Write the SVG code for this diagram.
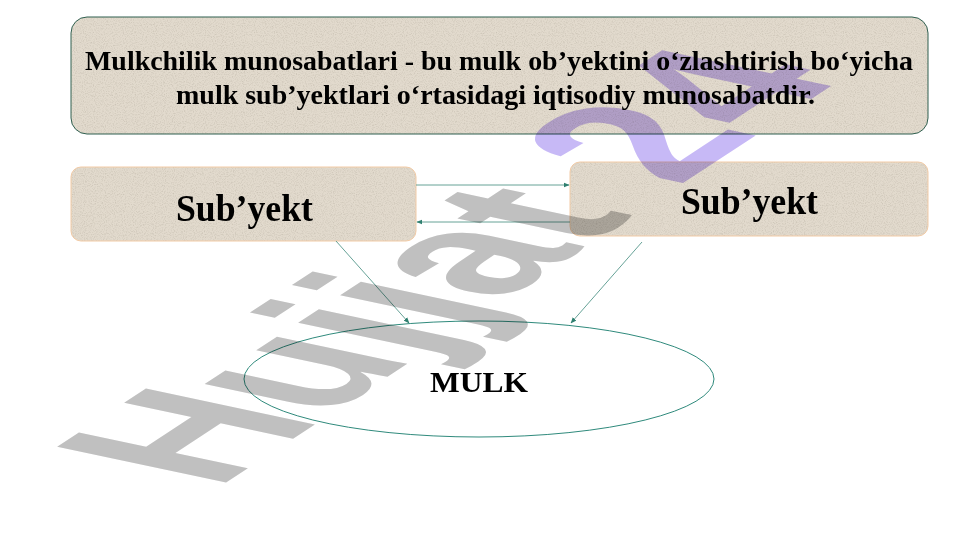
<svg xmlns="http://www.w3.org/2000/svg" width="961" height="540" viewBox="0 0 961 540">
<style>
.box{fill:#e2dacd;}
.t{font-family:"Liberation Serif","Times New Roman",serif;font-weight:bold;fill:#000;text-anchor:middle;}
.c{stroke:#3f8a7c;stroke-width:0.8;fill:none;}
.wm{font-family:"Liberation Sans",Arial,sans-serif;font-weight:bold;mix-blend-mode:multiply;}
</style>
<defs>
<filter id="grain" x="0" y="0" width="100%" height="100%">
<feTurbulence type="fractalNoise" baseFrequency="0.9" numOctaves="2" seed="3" result="n"/>
<feColorMatrix in="n" type="matrix" values="0 0 0 0 0.55  0 0 0 0 0.5  0 0 0 0 0.42  0 0 0 -1.6 0.9" result="s"/>
<feComposite in="s" in2="SourceGraphic" operator="in" result="sc"/>
<feMerge><feMergeNode in="SourceGraphic"/><feMergeNode in="sc"/></feMerge>
</filter>
<marker id="ah" viewBox="0 0 10 10" refX="9" refY="5" markerWidth="6" markerHeight="6" orient="auto" markerUnits="userSpaceOnUse">
<path d="M0,1 L10,5 L0,9 Z" fill="#2f7f6f"/>
</marker>
</defs>
<rect width="961" height="540" fill="#fff"/>
<g id="node-definition">
<rect class="box" x="71" y="17" width="857" height="117" rx="16" filter="url(#grain)"/>
<rect x="71" y="17" width="857" height="117" rx="16" fill="none" stroke="#2f5f4f" stroke-width="1"/>
<text class="t" x="499" y="70" font-size="27" textLength="828" lengthAdjust="spacingAndGlyphs">Mulkchilik munosabatlari - bu mulk ob’yektini o‘zlashtirish bo‘yicha</text>
<text class="t" x="495.5" y="104" font-size="27" textLength="639" lengthAdjust="spacingAndGlyphs">mulk sub’yektlari o‘rtasidagi iqtisodiy munosabatdir.</text>
</g>
<g id="node-subyekt-left">
<rect class="box" x="71" y="167" width="345" height="74" rx="10" filter="url(#grain)"/>
<rect x="71" y="167" width="345" height="74" rx="10" fill="none" stroke="#f2cba6" stroke-width="1"/>
<text class="t" x="244.5" y="221" font-size="38" textLength="137" lengthAdjust="spacingAndGlyphs">Sub’yekt</text>
</g>
<g id="node-subyekt-right">
<rect class="box" x="570" y="162" width="358" height="74" rx="10" filter="url(#grain)"/>
<rect x="570" y="162" width="358" height="74" rx="10" fill="none" stroke="#f2cba6" stroke-width="1"/>
<text class="t" x="749.5" y="214" font-size="38" textLength="137" lengthAdjust="spacingAndGlyphs">Sub’yekt</text>
</g>
<g id="node-mulk">
<ellipse cx="479" cy="379" rx="235" ry="58" fill="none" stroke="#2f8a7c" stroke-width="1"/>
<text class="t" x="479" y="392" font-size="29" textLength="98" lengthAdjust="spacingAndGlyphs">MULK</text>
</g>
<g id="connectors">
<line class="c" x1="416" y1="185" x2="569" y2="185" marker-end="url(#ah)"/>
<line class="c" x1="570" y1="222" x2="417" y2="222" marker-end="url(#ah)"/>
<line class="c" x1="336" y1="241" x2="409" y2="323" marker-end="url(#ah)"/>
<line class="c" x1="642" y1="242" x2="571" y2="323" marker-end="url(#ah)"/>
</g>
<g id="watermark">
<text class="wm" font-size="100" transform="matrix(1.51,-0.99,2.455,0.522,216,489.2)"><tspan fill="#c0c0c0">Hujjat</tspan><tspan fill="#c7b9f6" dx="28">24</tspan></text>
</g>
</svg>
